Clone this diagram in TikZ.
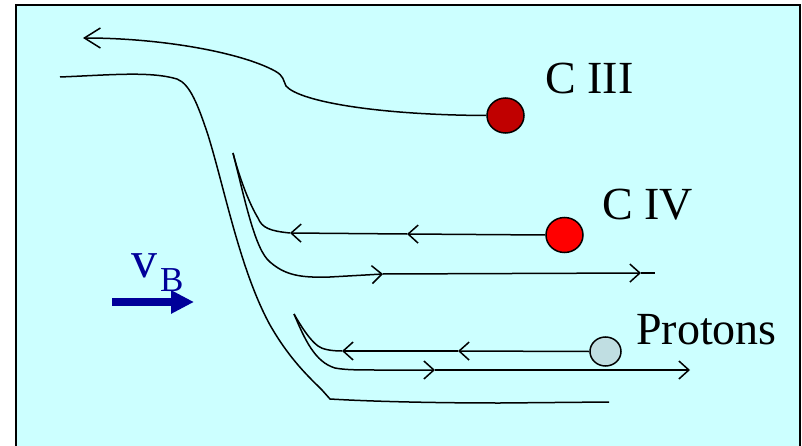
\documentclass[tikz,border=0pt]{standalone}
\usepackage{fontspec}
\setmainfont{Liberation Serif}
\usetikzlibrary{arrows.meta,shapes.geometric}
\definecolor{bgcyan}{RGB}{204,255,255}
\definecolor{dkred}{RGB}{192,0,0}
\definecolor{brred}{RGB}{255,0,0}
\definecolor{protgray}{RGB}{192,222,226}
\definecolor{vblue}{RGB}{0,0,153}
\tikzset{
  flow/.style={line width=1.5pt, black},
  barb/.style={flow, -{Straight Barb[length=10pt,width=18pt,line width=1.5pt]}},
  bigbarb/.style={flow, -{Straight Barb[length=16pt,width=20pt,line width=1.5pt]}},
  ion/.style={ellipse, draw=black, line width=1.5pt, inner sep=0pt},
  lab/.style={font=\fontsize{46}{50}\selectfont, inner sep=0pt, anchor=base west},
}
\begin{document}
\begin{tikzpicture}[x=1pt,y=-1pt]
\useasboundingbox (0,0) rectangle (802,446);
\fill[white] (0,0) rectangle (802,446);
\fill[bgcyan] (16,5) rectangle (800,446);
\draw[line width=2pt] (16,446) -- (16,5) -- (800,5) -- (800,446);

% ions
\node[ion, fill=dkred, minimum width=37pt, minimum height=35pt] (ciii) at (505.5,115.5) {};
\node[ion, fill=brred, minimum width=37pt, minimum height=35pt] (civ) at (564.5,235) {};
\node[ion, fill=protgray, minimum width=31pt, minimum height=29pt] (prot) at (605.5,351.5) {};

% labels
\node[lab] (lciii) at (545,94) {C III};
\node[lab] (lciv) at (602,220) {C IV};
\node[lab] (lprot) at (636,344) {Protons};

% C III trajectory
\draw[bigbarb] (ciii.west) .. controls (380,115) and (300,102) .. (286,86)
  .. controls (283,80) and (284,76) .. (275,71)
  .. controls (240,52) and (160,38) .. (83,38);

% outer boundary
\coordinate (b0) at (60,77);
\coordinate (b1) at (609,402);
\draw[flow] (b0) .. controls (110,75) and (150,71) .. (177,79)
  .. controls (190,84) and (198,105) .. (208,135)
  .. controls (225,190) and (240,270) .. (270,325)
  .. controls (290,360) and (310,378) .. (322,390)
  -- (330,399) .. controls (380,402) and (450,403) .. (500,403) -- (b1);

% C IV trajectories
\coordinate (s1) at (233,153);
\coordinate (c1) at (407,234);
\coordinate (c2) at (290,233);
\coordinate (c3) at (383,274);
\coordinate (c4) at (641,273);
\coordinate (c5) at (655,273);
\draw[barb] (civ.west) -- (c1);
\draw[barb] (c1) -- (c2);
\draw[flow] (c2) .. controls (270,231) and (262,228) .. (258,218)
  .. controls (250,205) and (240,180) .. (s1);
\draw[barb] (s1) .. controls (245,200) and (255,250) .. (270,262)
  .. controls (285,275) and (300,278) .. (330,277) -- (c3);
\draw[barb] (c3) -- (c4);
\draw[flow] (c4) -- (c5);

% Proton trajectories
\coordinate (s2) at (294,314);
\coordinate (p1) at (458,351);
\coordinate (p2) at (342,351);
\coordinate (p3) at (435,370);
\coordinate (p4) at (690,370);
\draw[barb] (prot.west) -- (p1);
\draw[barb] (p1) -- (p2);
\draw[flow] (p2) .. controls (330,351) and (322,349) .. (318,346)
  .. controls (310,340) and (302,328) .. (s2);
\draw[barb] (s2) .. controls (305,340) and (315,362) .. (335,368)
  .. controls (345,370) and (360,370) .. (380,370) -- (p3);
\draw[barb] (p3) -- (p4);

% v_B
\node[font=\fontsize{52}{56}\selectfont, text=vblue, inner sep=0pt, anchor=base west] (vv) at (131,277) {v};
\node[font=\fontsize{35}{40}\selectfont, text=vblue, inner sep=0pt, anchor=base west] (vb) at (160,291) {B};
\coordinate (va) at (112,302);
\coordinate (vz) at (194,302);
\draw[vblue, line width=8pt, -{Triangle[length=23pt,width=22pt]}] (va) -- (vz);
\end{tikzpicture}
\end{document}
